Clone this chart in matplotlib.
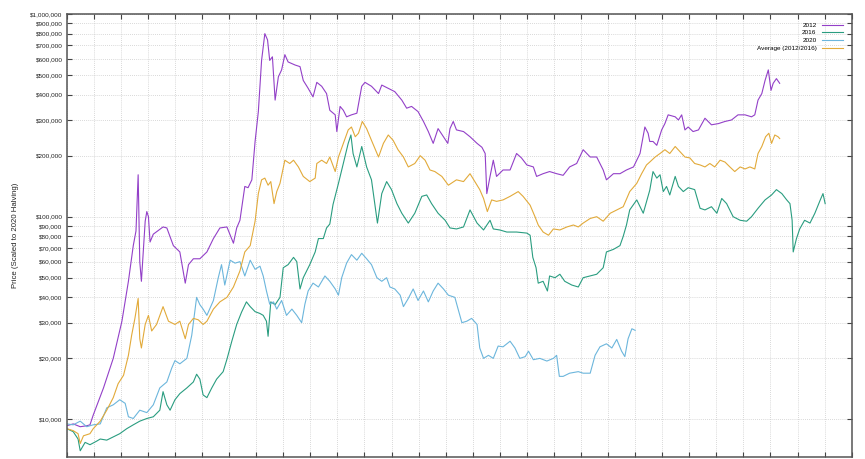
import numpy as np
import matplotlib
matplotlib.use("Agg")
import matplotlib.pyplot as plt
from matplotlib.ticker import FixedLocator, FuncFormatter, NullFormatter

plt.rcParams['font.family'] = ['Liberation Sans', 'DejaVu Sans']

# days since halving / price in thousands of dollars
days_2012 = [0, 12, 25, 37, 43, 49, 68, 86, 102, 114, 123, 128, 132, 135, 138, 145, 148, 151, 154, 160,
             178, 185, 197, 209, 219, 225, 234, 246, 259, 271, 283, 296, 308, 314, 320, 329, 335, 342, 348, 354,
             360, 366, 371, 375, 380, 385, 391, 397, 403, 409, 422, 431, 437, 446, 455, 462, 471, 480, 486, 496,
             499, 505, 511, 517, 526, 536, 545, 551, 563, 576, 582, 594, 606, 619, 628, 637, 649, 659, 668, 677,
             686, 696, 704, 708, 714, 720, 733, 745, 758, 767, 773, 776, 782, 788, 794, 806, 819, 831, 840, 850,
             862, 868, 880, 892, 905, 917, 929, 942, 954, 967, 979, 991, 997, 1010, 1022, 1034, 1047, 1059, 1068, 1074,
             1077, 1083, 1090, 1099, 1105, 1111, 1124, 1130, 1136, 1142, 1148, 1157, 1167, 1179, 1191, 1204, 1216, 1228, 1240, 1253,
             1265, 1271, 1277, 1284, 1290, 1296, 1301, 1305, 1311, 1317]
price_2012 = [9.3, 9.5, 9.2, 9.3, 9.4, 10.5, 14.3, 20, 30.5, 48, 72, 85, 161, 60, 48, 95, 106, 100, 75, 82,
              89, 88, 72, 67, 47, 58, 62, 62, 67, 78, 88, 89, 74, 88, 96, 141, 139, 152, 235, 330,
              590, 800, 745, 590, 615, 376, 490, 530, 630, 580, 560, 550, 470, 430, 390, 460, 440, 405, 335, 318,
              263, 350, 335, 311, 318, 324, 440, 460, 440, 405, 446, 430, 414, 376, 343, 350, 330, 295, 263, 230,
              272, 248, 230, 272, 295, 268, 263, 248, 230, 220, 205, 130, 158, 190, 158, 170, 170, 205, 195, 180,
              176, 158, 163, 167, 163, 160, 176, 183, 214, 197, 197, 170, 152, 163, 163, 170, 176, 205, 277, 258,
              235, 235, 225, 268, 288, 318, 311, 300, 318, 268, 277, 263, 268, 306, 284, 288, 295, 300, 318, 318,
              311, 318, 376, 405, 470, 530, 420, 455, 480, 455]

days_2016 = [0, 12, 21, 25, 34, 43, 55, 62, 74, 86, 98, 111, 123, 135, 148, 160, 172, 178, 185, 191,
             200, 209, 222, 234, 240, 246, 252, 259, 268, 277, 289, 296, 305, 314, 323, 332, 339, 348, 357, 363,
             369, 372, 377, 385, 394, 400, 409, 419, 425, 431, 437, 449, 459, 465, 474, 480, 486, 492, 502, 511,
             520, 525, 529, 536, 545, 554, 563, 574, 582, 591, 600, 610, 619, 631, 643, 656, 665, 674, 686, 699,
             708, 720, 733, 745, 758, 770, 782, 788, 800, 813, 831, 850, 856, 861, 867, 871, 880, 888, 892, 902,
             911, 920, 933, 945, 954, 967, 979, 991, 997, 1010, 1022, 1028, 1034, 1040, 1053, 1065, 1077, 1083, 1090, 1096,
             1102, 1108, 1114, 1124, 1130, 1139, 1148, 1160, 1170, 1179, 1191, 1201, 1210, 1219, 1231, 1244, 1256, 1265, 1277, 1290,
             1302, 1311, 1321, 1330, 1336, 1340, 1342, 1348, 1354, 1363, 1373, 1382, 1392, 1397, 1401]
price_2016 = [9.0, 8.7, 8.0, 7.0, 7.7, 7.5, 7.8, 8.0, 7.9, 8.2, 8.5, 9.0, 9.4, 9.8, 10.1, 10.3, 11.1, 13.7, 11.8, 11.1,
              12.5, 13.4, 14.3, 15.3, 16.7, 15.8, 13.2, 12.8, 14.3, 15.8, 17.2, 19.8, 24.3, 29.4, 33.8, 38, 36, 34, 33.3, 32.6,
              30.5, 25.7, 38, 36.8, 40, 56, 58, 63, 60, 44, 50, 58, 67, 78, 78, 88, 92, 115, 146, 183,
              230, 253, 205, 176, 222, 176, 152, 93, 130, 149, 136, 116, 104, 93, 104, 126, 128, 116, 104, 96,
              88, 87, 89, 108, 93, 86, 96, 87, 86, 84, 84, 83, 81, 63, 56, 47, 48, 43, 51, 50,
              52, 48, 46, 45, 50, 51, 52, 56, 67, 69, 72, 80, 91, 108, 121, 104, 135, 167, 155, 161,
              133, 141, 128, 158, 141, 133, 139, 136, 110, 108, 112, 104, 123, 116, 100, 96, 95, 100, 110, 121,
              128, 136, 130, 121, 116, 96, 67, 78, 87, 96, 93, 104, 121, 130, 116]

days_2020 = [0, 12, 25, 37, 49, 62, 74, 86, 98, 108, 114, 123, 135, 148, 160, 172, 185, 194, 200, 209,
             222, 231, 240, 246, 252, 259, 271, 280, 286, 292, 302, 311, 320, 329, 339, 348, 357, 363, 369, 375,
             382, 388, 397, 406, 416, 425, 434, 440, 446, 455, 465, 477, 486, 496, 502, 508, 517, 526, 536, 545,
             554, 563, 573, 582, 591, 597, 606, 616, 622, 631, 640, 649, 659, 668, 677, 686, 696, 705, 717, 723,
             730, 739, 748, 758, 763, 770, 779, 788, 797, 806, 819, 828, 837, 847, 853, 862, 874, 887, 899, 905,
             910, 917, 929, 945, 954, 967, 976, 985, 997, 1007, 1016, 1025, 1031, 1037, 1044, 1050]
price_2020 = [9.5, 9.4, 9.8, 9.2, 9.4, 9.5, 11.4, 11.8, 12.5, 12.0, 10.3, 10.1, 11.1, 10.8, 11.8, 14.3, 15.3, 17.9, 19.5, 18.8,
              20, 26, 40, 36.8, 35, 32.6, 38.6, 50, 58, 46, 61, 59, 60, 51, 61, 55, 57, 51, 43, 37,
              38, 35, 38.6, 32.6, 35, 32.6, 30, 37, 43, 47, 45, 51, 48, 44, 41, 50, 59, 65, 61, 66,
              62, 58, 50, 48, 50, 45, 44, 41, 36, 39.5, 44, 38.6, 43, 38, 43, 47, 44, 41, 40, 35,
              30, 30.5, 31.5, 29.4, 22.5, 20, 20.7, 20, 23, 22.8, 24.3, 22.5, 20, 20.4, 21.7, 19.7, 20, 19.4, 20, 20.7,
              16.3, 16.3, 16.9, 17.2, 16.9, 16.9, 20.7, 22.8, 23.6, 22.5, 24.8, 21.7, 20.4, 25, 28, 27.5]

days_avg = [0, 12, 21, 25, 31, 43, 49, 62, 74, 86, 95, 105, 114, 120, 126, 132, 135, 138, 145, 151,
            157, 166, 178, 188, 200, 209, 219, 225, 234, 243, 252, 259, 271, 283, 296, 308, 320, 329, 339, 348,
            354, 360, 366, 372, 377, 383, 388, 394, 403, 412, 419, 428, 437, 449, 459, 462, 471, 480, 486, 496,
            502, 511, 520, 526, 533, 539, 546, 554, 563, 576, 585, 594, 603, 612, 622, 631, 643, 653, 662, 671,
            680, 693, 705, 720, 733, 745, 754, 763, 770, 777, 785, 794, 806, 819, 834, 843, 856, 865, 871, 880,
            890, 899, 911, 924, 936, 945, 954, 967, 979, 991, 1004, 1016, 1028, 1040, 1053, 1062, 1071, 1077, 1087, 1096,
            1105, 1114, 1124, 1133, 1142, 1151, 1160, 1170, 1179, 1188, 1197, 1207, 1216, 1225, 1234, 1244, 1253, 1262, 1271, 1277,
            1284, 1291, 1297, 1302, 1308, 1314, 1317]
price_avg = [9.0, 8.8, 8.5, 7.6, 8.3, 8.5, 9.0, 9.8, 11.1, 12.8, 15, 16.5, 20.7, 26, 31.5, 39.5, 25, 22.5, 29.4, 32.6,
             27.3, 29.4, 36, 30.5, 29.4, 30.5, 25, 29.4, 31.5, 31, 29.4, 30.5, 35, 38, 40, 45, 54, 67, 72, 95,
             130, 152, 155, 143, 149, 116, 133, 146, 190, 183, 190, 176, 158, 149, 155, 183, 190, 183, 197, 167,
             197, 230, 268, 277, 248, 258, 295, 272, 238, 197, 230, 253, 238, 214, 197, 176, 183, 200, 190, 170,
             167, 158, 143, 152, 149, 163, 149, 136, 123, 106, 121, 119, 121, 126, 133, 126, 114, 100, 91, 84,
             81, 87, 86, 89, 91, 89, 93, 98, 100, 95, 104, 108, 112, 133, 146, 163, 180, 186, 197, 205,
             214, 205, 222, 209, 197, 195, 183, 180, 176, 183, 176, 190, 186, 176, 167, 176, 172, 176, 172, 205,
             222, 248, 258, 230, 253, 248, 243]

series = [
    ("2012", days_2012, price_2012, "#9340c8"),
    ("2016", days_2016, price_2016, "#2a9d80"),
    ("2020", days_2020, price_2020, "#6cb6dc"),
    ("Average (2012/2016)", days_avg, price_avg, "#e2aa3a"),
]

y_ticks = [v * 10 ** e for e in (4, 5) for v in range(1, 10)] + [1000000]

fig = plt.figure(figsize=(8.65, 4.59), dpi=100)
ax = fig.add_axes([0.0771, 0.0037, 0.9075, 0.9658])

for name, d, p, c in series:
    ax.plot(d, np.array(p) * 1000, color=c, lw=0.8, label=name)

ax.set_yscale("log")
ax.set_xlim(0, 1450)
ax.set_ylim(6500, 1000000)
ax.yaxis.set_major_locator(FixedLocator(y_ticks))
ax.yaxis.set_minor_locator(FixedLocator([]))
ax.yaxis.set_major_formatter(FuncFormatter(lambda v, pos: "${:,.0f}".format(v)))
ax.yaxis.set_minor_formatter(NullFormatter())
ax.xaxis.set_major_locator(FixedLocator(np.arange(0, 1451, 50)))
ax.xaxis.set_major_formatter(NullFormatter())

ax.tick_params(which="both", direction="in", top=True, right=True, length=3.5,
               width=0.8, color="#444444", labelsize=4.6, labelcolor="#222222", pad=3)
ax.grid(True, which="major", color="#cccccc", ls=(0, (1, 1.5)), lw=0.6)
for s in ax.spines.values():
    s.set_color("#555555")
    s.set_linewidth(1.1)

ax.set_ylabel("Price (Scaled to 2020 Halving)", fontsize=5.6, color="#222222", labelpad=8)

ax.legend(loc="upper right", frameon=False, markerfirst=False, fontsize=4.6,
          handlelength=3.4, handletextpad=0.8, borderpad=0, borderaxespad=1.3,
          labelspacing=0.35)

fig.savefig("out.png", dpi=100)
